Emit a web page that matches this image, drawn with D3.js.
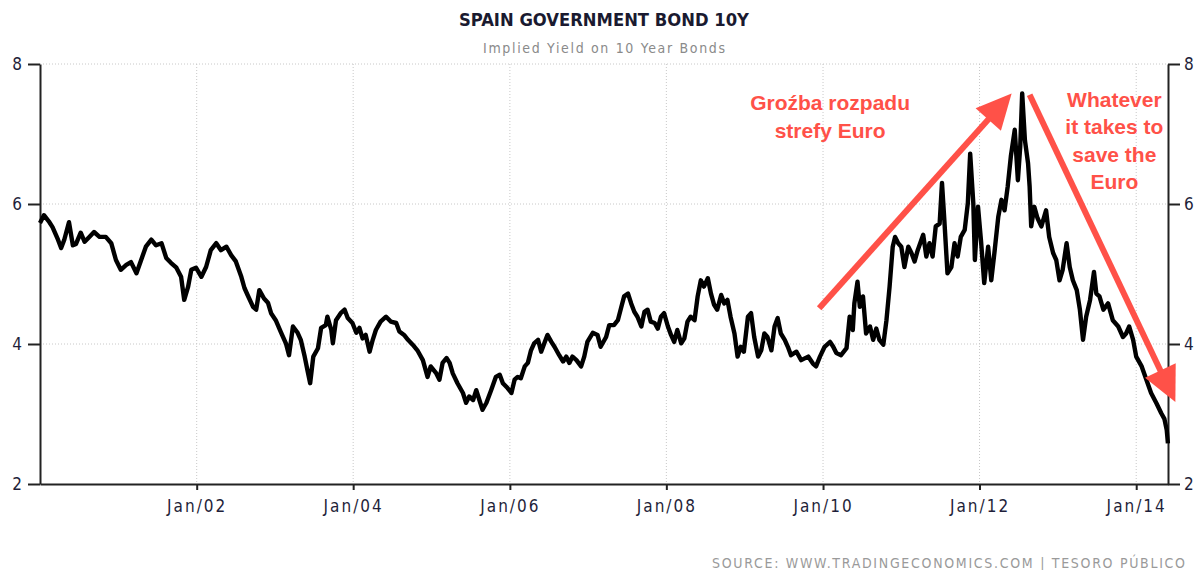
<!DOCTYPE html>
<html>
<head>
<meta charset="utf-8">
<script src="https://cdn.jsdelivr.net/npm/d3@7"></script>
<style>
  body { margin: 0; background: #fff; }
  .tick text { font-family: "DejaVu Sans Condensed", "DejaVu Sans", sans-serif; font-size: 17px; fill: #1f1f3a; }
  .x-axis .tick text { letter-spacing: 2px; }
</style>
</head>
<body>
<div id="chart"></div>
<script>
const yieldYear = [
  2000.00, 2000.05, 2000.12, 2000.16, 2000.23, 2000.27, 2000.31, 2000.37, 2000.42, 2000.46,
  2000.52, 2000.57, 2000.63, 2000.69, 2000.76, 2000.84, 2000.91, 2000.97, 2001.03, 2001.10,
  2001.16, 2001.23, 2001.29, 2001.35, 2001.42, 2001.48, 2001.55, 2001.61, 2001.67, 2001.74,
  2001.80, 2001.84, 2001.89, 2001.93, 2001.99, 2002.06, 2002.12, 2002.18, 2002.25, 2002.31,
  2002.38, 2002.44, 2002.50, 2002.57, 2002.61, 2002.65, 2002.72, 2002.76, 2002.80, 2002.86,
  2002.91, 2002.95, 2003.01, 2003.08, 2003.14, 2003.18, 2003.23, 2003.29, 2003.33, 2003.38,
  2003.42, 2003.45, 2003.49, 2003.55, 2003.59, 2003.65, 2003.67, 2003.72, 2003.74, 2003.78,
  2003.84, 2003.89, 2003.93, 2003.99, 2004.04, 2004.08, 2004.12, 2004.16, 2004.21, 2004.25,
  2004.29, 2004.35, 2004.42, 2004.48, 2004.55, 2004.59, 2004.65, 2004.70, 2004.76, 2004.82,
  2004.89, 2004.95, 2004.99, 2005.06, 2005.10, 2005.14, 2005.19, 2005.23, 2005.27, 2005.33,
  2005.40, 2005.44, 2005.48, 2005.53, 2005.57, 2005.61, 2005.65, 2005.70, 2005.76, 2005.82,
  2005.87, 2005.91, 2005.97, 2006.02, 2006.06, 2006.10, 2006.14, 2006.19, 2006.23, 2006.27,
  2006.31, 2006.36, 2006.40, 2006.44, 2006.48, 2006.53, 2006.57, 2006.63, 2006.68, 2006.72,
  2006.76, 2006.80, 2006.85, 2006.91, 2006.95, 2006.99, 2007.06, 2007.12, 2007.16, 2007.23,
  2007.27, 2007.33, 2007.38, 2007.42, 2007.46, 2007.51, 2007.55, 2007.59, 2007.63, 2007.68,
  2007.72, 2007.76, 2007.80, 2007.85, 2007.89, 2007.93, 2007.97, 2008.02, 2008.06, 2008.10,
  2008.14, 2008.19, 2008.23, 2008.27, 2008.31, 2008.36, 2008.40, 2008.44, 2008.48, 2008.53,
  2008.57, 2008.61, 2008.65, 2008.70, 2008.74, 2008.78, 2008.82, 2008.87, 2008.91, 2008.95,
  2008.99, 2009.04, 2009.08, 2009.12, 2009.17, 2009.21, 2009.25, 2009.29, 2009.34, 2009.38,
  2009.42, 2009.46, 2009.51, 2009.55, 2009.59, 2009.66, 2009.72, 2009.81, 2009.87, 2009.91,
  2009.96, 2010.02, 2010.09, 2010.13, 2010.17, 2010.23, 2010.30, 2010.34, 2010.38, 2010.40,
  2010.44, 2010.47, 2010.51, 2010.55, 2010.60, 2010.64, 2010.68, 2010.72, 2010.77, 2010.81,
  2010.85, 2010.89, 2010.92, 2010.96, 2011.00, 2011.04, 2011.09, 2011.13, 2011.17, 2011.21,
  2011.28, 2011.32, 2011.36, 2011.40, 2011.44, 2011.49, 2011.52, 2011.55, 2011.59, 2011.64,
  2011.68, 2011.72, 2011.76, 2011.81, 2011.85, 2011.88, 2011.92, 2011.94, 2011.98, 2012.02,
  2012.06, 2012.11, 2012.15, 2012.19, 2012.24, 2012.28, 2012.32, 2012.36, 2012.40, 2012.45,
  2012.49, 2012.52, 2012.545, 2012.58, 2012.62, 2012.64, 2012.66, 2012.70, 2012.74, 2012.79,
  2012.85, 2012.89, 2012.94, 2012.98, 2013.02, 2013.06, 2013.11, 2013.15, 2013.19, 2013.24,
  2013.28, 2013.32, 2013.36, 2013.41, 2013.46, 2013.49, 2013.53, 2013.58, 2013.64, 2013.70,
  2013.77, 2013.83, 2013.87, 2013.91, 2013.96, 2014.00, 2014.07, 2014.13, 2014.19, 2014.26,
  2014.32, 2014.36, 2014.39, 2014.405
];
const yieldValue = [
  5.73, 5.84, 5.74, 5.67, 5.49, 5.37, 5.49, 5.74, 5.41, 5.43,
  5.59, 5.46, 5.53, 5.60, 5.53, 5.53, 5.44, 5.20, 5.06, 5.13,
  5.17, 5.01, 5.20, 5.39, 5.49, 5.41, 5.44, 5.23, 5.16, 5.09,
  4.96, 4.63, 4.82, 5.06, 5.09, 4.96, 5.10, 5.34, 5.44, 5.34,
  5.39, 5.27, 5.18, 4.96, 4.80, 4.70, 4.53, 4.49, 4.77, 4.65,
  4.59, 4.44, 4.34, 4.16, 4.01, 3.84, 4.25, 4.16, 4.06, 3.82,
  3.60, 3.44, 3.82, 3.94, 4.23, 4.27, 4.39, 4.20, 4.01, 4.34,
  4.44, 4.49, 4.37, 4.30, 4.16, 4.23, 4.08, 4.13, 3.89, 4.06,
  4.20, 4.32, 4.39, 4.32, 4.30, 4.18, 4.13, 4.06, 3.99, 3.91,
  3.77, 3.53, 3.68, 3.58, 3.49, 3.73, 3.80, 3.73, 3.58, 3.44,
  3.30, 3.16, 3.25, 3.20, 3.34, 3.20, 3.06, 3.16, 3.34, 3.53,
  3.56, 3.44, 3.37, 3.30, 3.49, 3.53, 3.51, 3.68, 3.73, 3.91,
  4.01, 4.06, 3.89, 4.01, 4.13, 4.03, 3.96, 3.84, 3.75, 3.82,
  3.73, 3.82, 3.77, 3.68, 3.82, 4.03, 4.16, 4.13, 3.96, 4.10,
  4.27, 4.27, 4.34, 4.51, 4.68, 4.72, 4.58, 4.46, 4.39, 4.25,
  4.46, 4.49, 4.32, 4.30, 4.22, 4.39, 4.44, 4.25, 4.13, 4.03,
  4.20, 4.01, 4.08, 4.32, 4.39, 4.34, 4.68, 4.91, 4.82, 4.94,
  4.72, 4.56, 4.49, 4.70, 4.58, 4.63, 4.39, 4.15, 3.82, 3.96,
  3.89, 4.39, 4.44, 4.10, 3.82, 3.91, 4.15, 4.10, 3.91, 4.25,
  4.37, 4.15, 4.06, 3.96, 3.84, 3.89, 3.77, 3.82, 3.72, 3.68,
  3.82, 3.96, 4.03, 3.96, 3.87, 3.84, 3.94, 4.39, 4.20, 4.58,
  4.89, 4.53, 4.68, 4.15, 4.25, 4.06, 4.22, 4.06, 3.99, 4.34,
  4.82, 5.39, 5.53, 5.44, 5.39, 5.10, 5.39, 5.30, 5.18, 5.34,
  5.56, 5.25, 5.44, 5.25, 5.68, 5.72, 6.30, 5.77, 5.01, 5.10,
  5.44, 5.25, 5.53, 5.63, 6.01, 6.72, 6.01, 5.20, 5.96, 5.46,
  4.87, 5.39, 4.91, 5.30, 5.82, 6.06, 5.91, 6.25, 6.68, 7.06,
  6.34, 6.82, 7.58, 6.91, 6.58, 6.25, 5.68, 5.96, 5.80, 5.68,
  5.91, 5.53, 5.30, 5.20, 4.91, 5.06, 5.44, 5.10, 4.91, 4.77,
  4.49, 4.06, 4.39, 4.63, 5.03, 4.72, 4.68, 4.49, 4.58, 4.34,
  4.25, 4.10, 4.15, 4.25, 4.06, 3.82, 3.68, 3.49, 3.30, 3.15,
  3.01, 2.93, 2.77, 2.58
];

const yTicks = [2, 4, 6, 8];
const xTickYears = [2002, 2004, 2006, 2008, 2010, 2012, 2014];

// annotations, in data space: [decimal year, yield]
const arrowUp = [[2009.95, 4.51], [2012.41, 7.58]];
const arrowDown = [[2012.64, 7.56], [2014.50, 3.17]];
const leftNote = ["Groźba rozpadu", "strefy Euro"];
const leftNotePos = [2010.09, 7.34];
const rightNote = ["Whatever", "it takes to", "save the", "Euro"];
const rightNotePos = [2013.72, 7.39];

const width = 1201, height = 570;
const margin = { top: 64, right: 33, bottom: 86, left: 40 };
const red = "#ff5148";

function toDate(t) {
  const yr = Math.floor(t);
  return new Date(Date.UTC(yr, 0, 1) + (t - yr) * 365.25 * 864e5);
}

const svg = d3.select("#chart")
  .append("svg")
  .attr("width", width)
  .attr("height", height);

const x = d3.scaleUtc()
  .domain([toDate(2000), toDate(2014.406)])
  .range([margin.left, width - margin.right]);

const y = d3.scaleLinear()
  .domain([2, 8])
  .range([height - margin.bottom, margin.top]);

// dotted grid
svg.append("g")
  .selectAll("line")
  .data(xTickYears)
  .join("line")
  .attr("x1", d => x(toDate(d))).attr("x2", d => x(toDate(d)))
  .attr("y1", y(8)).attr("y2", y(2))
  .attr("stroke", "#c8c8c8").attr("stroke-dasharray", "1,2");

svg.append("g")
  .selectAll("line")
  .data(yTicks.filter(d => d > 2))
  .join("line")
  .attr("x1", x.range()[0]).attr("x2", x.range()[1])
  .attr("y1", d => y(d)).attr("y2", d => y(d))
  .attr("stroke", "#c8c8c8").attr("stroke-dasharray", "1,2");

// axes
const xAxis = svg.append("g")
  .attr("class", "x-axis")
  .attr("transform", `translate(0,${y(2)})`)
  .call(d3.axisBottom(x)
    .tickValues(xTickYears.map(toDate))
    .tickFormat(d3.utcFormat("Jan/%y"))
    .tickSize(6).tickSizeOuter(0).tickPadding(10));

const yAxisL = svg.append("g")
  .attr("transform", `translate(${x.range()[0]},0)`)
  .call(d3.axisLeft(y).tickValues(yTicks).tickFormat(d3.format("d"))
    .tickSize(12).tickSizeOuter(0).tickPadding(6));

const yAxisR = svg.append("g")
  .attr("transform", `translate(${x.range()[1]},0)`)
  .call(d3.axisRight(y).tickValues(yTicks).tickFormat(d3.format("d"))
    .tickSize(12).tickSizeOuter(0).tickPadding(4));

[xAxis, yAxisL, yAxisR].forEach(g => {
  g.select(".domain").attr("stroke", "#222").attr("stroke-width", 2);
  g.selectAll(".tick line").attr("stroke", "#222").attr("stroke-width", 2);
});

// the yield line
const points = yieldYear.map((t, i) => ({ date: toDate(t), value: yieldValue[i] }));

const line = d3.line()
  .x(d => x(d.date))
  .y(d => y(d.value));

svg.append("path")
  .datum(points)
  .attr("fill", "none")
  .attr("stroke", "#000")
  .attr("stroke-width", 4.4)
  .attr("stroke-linejoin", "round")
  .attr("d", line);

// titles
svg.append("text")
  .attr("x", 604).attr("y", 26)
  .attr("text-anchor", "middle")
  .attr("textLength", 290)
  .attr("lengthAdjust", "spacingAndGlyphs")
  .style("font-family", "'DejaVu Sans Condensed', 'DejaVu Sans', sans-serif")
  .style("font-weight", "bold")
  .style("font-size", "18px")
  .style("fill", "#1a1a30")
  .text("SPAIN GOVERNMENT BOND 10Y");

svg.append("text")
  .attr("x", 604).attr("y", 53)
  .attr("text-anchor", "middle")
  .attr("textLength", 242)
  .attr("lengthAdjust", "spacing")
  .style("font-family", "'DejaVu Sans Condensed', 'DejaVu Sans', sans-serif")
  .style("font-size", "14px")
  .style("fill", "#8a8a8a")
  .text("Implied Yield on 10 Year Bonds");

svg.append("text")
  .attr("x", 1185).attr("y", 568)
  .attr("text-anchor", "end")
  .attr("textLength", 473)
  .attr("lengthAdjust", "spacing")
  .style("font-family", "'DejaVu Sans Condensed', 'DejaVu Sans', sans-serif")
  .style("font-size", "14px")
  .style("fill", "#9a9a9a")
  .text("SOURCE:  WWW.TRADINGECONOMICS.COM  |  TESORO  PÚBLICO");

// arrows
function drawArrow(pts) {
  const [a, b] = pts.map(p => [x(toDate(p[0])), y(p[1])]);
  const len = Math.hypot(b[0] - a[0], b[1] - a[1]);
  const ux = (b[0] - a[0]) / len, uy = (b[1] - a[1]) / len;
  const headL = 35, headW = 17;
  const bx = b[0] - ux * headL, by = b[1] - uy * headL;
  svg.append("line")
    .attr("x1", a[0]).attr("y1", a[1])
    .attr("x2", bx + ux * 2).attr("y2", by + uy * 2)
    .attr("stroke", red).attr("stroke-width", 6);
  svg.append("path")
    .attr("d", `M${b[0]},${b[1]}L${bx - uy * headW},${by + ux * headW}L${bx + uy * headW},${by - ux * headW}Z`)
    .attr("fill", red);
}
drawArrow(arrowUp);
drawArrow(arrowDown);

function drawNote(lines, pos, lineH) {
  svg.append("g").selectAll("text")
    .data(lines)
    .join("text")
    .attr("x", x(toDate(pos[0])))
    .attr("y", (d, i) => y(pos[1]) + i * lineH)
    .attr("text-anchor", "middle")
    .style("font-family", "'Liberation Sans', Arial, sans-serif")
    .style("font-weight", "bold")
    .style("font-size", "21px")
    .style("fill", red)
    .text(d => d);
}
drawNote(leftNote, leftNotePos, 28);
drawNote(rightNote, rightNotePos, 27.5);
</script>
</body>
</html>
